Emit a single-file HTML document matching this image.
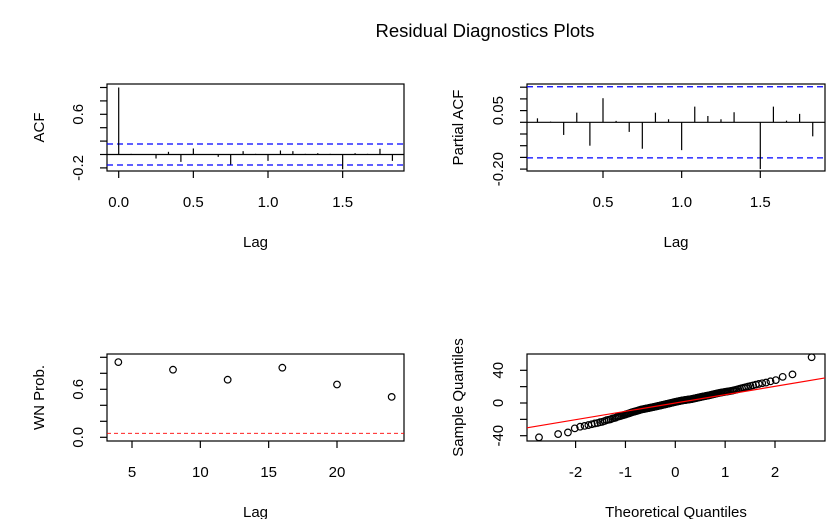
<!DOCTYPE html>
<html><head><meta charset="utf-8"><style>
html,body{margin:0;padding:0;background:#fff;}
svg{display:block;font-family:"Liberation Sans",Arial,sans-serif;}
</style></head><body>
<svg id="c" width="837" height="519" viewBox="0 0 837 519" xmlns="http://www.w3.org/2000/svg">
<rect width="837" height="519" fill="#fff"/>
<text x="485" y="37" font-size="18.5" text-anchor="middle">Residual Diagnostics Plots</text>
</svg>
<script>
// ACF panel data
const acfLags = [0,1,2,3,4,5,6,7,8,9,10,11,12,13,14,15,16,17,18,19,20,21,22];
const acfValues = [1,0.01,0.0,-0.06,0.04,-0.11,0.09,0.0,-0.035,-0.15,0.05,0.01,-0.095,0.06,0.05,0.01,0.02,0.01,-0.22,0.02,0.01,0.085,-0.095];
const acfCI = 0.157;
const acfYTicks = [-0.2,0,0.2,0.4,0.6,0.8,1.0];
const acfYLabels = ["-0.2","0.6"];
const acfXTicks = [0,0.5,1,1.5];
const acfXLabels = ["0.0","0.5","1.0","1.5"];
// PACF panel data
const pacfValues = [0.017,0.003,-0.054,0.041,-0.10,0.103,0.006,-0.041,-0.113,0.041,0.013,-0.119,0.067,0.027,0.013,0.043,0.0,-0.2,0.067,0.007,0.036,-0.06];
const pacfCI = 0.152;
const pacfYTicks = [0.15,0.10,0.05,0,-0.05,-0.10,-0.15,-0.20];
const pacfYLabels = ["0.05","-0.20"];
const pacfXTicks = [0.5,1,1.5];
const pacfXLabels = ["0.5","1.0","1.5"];
// White-noise p-values
const wnLags = [4,8,12,16,20,24];
const wnProbs = [0.94,0.845,0.72,0.87,0.66,0.505];
const wnLevel = 0.05;
const wnYTicks = [0,0.2,0.4,0.6,0.8,1.0];
const wnXTicks = [5,10,15,20];
// QQ plot sample quantiles (sorted)
const qqSample = [-42,-38,-36,-31,-29,-28,-27,-26,-25,-24.5,-23.5,-23,-22,-21,-20.5,-20,-19,-18.5,-18,-17,
-16.5,-16,-15.5,-15,-14.5,-14,-13.5,-13,-12.5,-12,-11.5,-11,-10.7,-10.3,-10,-9.6,-9.2,-8.8,-8.4,-8,
-7.8,-7.5,-7.3,-7.1,-6.8,-6.6,-6.4,-6.2,-5.9,-5.7,-5.5,-5.2,-5,-4.8,-4.6,-4.3,-4.1,-3.9,-3.6,-3.4,
-3.2,-3,-2.7,-2.5,-2.3,-2,-1.8,-1.6,-1.3,-1.1,-0.9,-0.7,-0.4,-0.2,0,0.3,0.5,0.7,1,1.2,
1.4,1.6,1.8,2,2.2,2.4,2.6,2.8,3,3.2,3.3,3.5,3.6,3.8,3.9,4.1,4.2,4.4,4.5,4.6,
4.8,5,5.3,5.5,5.7,6,6.2,6.4,6.7,6.9,7.1,7.4,7.6,7.9,8.1,8.3,8.6,8.8,9,9.2,
9.5,9.8,10.1,10.4,10.7,11,11.3,11.6,11.9,12.2,12.5,12.8,13,13.3,13.6,13.9,14.1,14.4,14.7,15,
15.4,15.9,16.4,17,17.6,18.2,18.8,19.4,20.1,20.8,21.6,22.5,23.3,24.2,25,26.5,28,32,35,56];
const qqLine = [0.0,10.2]; // intercept, slope
const qqYTicks = [-40,-20,0,20,40];
const qqYLabels = ["-40","0","40"];
const qqXTicks = [-2,-1,0,1,2];

const svg = document.getElementById('c');
const NS = 'http://www.w3.org/2000/svg';
function el(tag, attrs, parent){
  const e = document.createElementNS(NS, tag);
  for (const k in attrs) e.setAttribute(k, attrs[k]);
  (parent||svg).appendChild(e);
  return e;
}
function lin(d0,d1,r0,r1){ return v => r0 + (v-d0)*(r1-r0)/(d1-d0); }
function qnorm(p){
  const a=[-39.69683028665376,220.9460984245205,-275.9285104469687,138.357751867269,-30.66479806614716,2.506628277459239];
  const b=[-54.47609879822406,161.5858368580409,-155.6989798598866,66.80131188771972,-13.28068155288572];
  const c=[-0.007784894002430293,-0.3223964580411365,-2.400758277161838,-2.549732539343734,4.374664141464968,2.938163982698783];
  const d=[0.007784695709041462,0.3224671290700398,2.445134137142996,3.754408661907416];
  let q,r;
  if(p<0.02425){q=Math.sqrt(-2*Math.log(p));return (((((c[0]*q+c[1])*q+c[2])*q+c[3])*q+c[4])*q+c[5])/((((d[0]*q+d[1])*q+d[2])*q+d[3])*q+1);}
  if(p>1-0.02425){q=Math.sqrt(-2*Math.log(1-p));return -(((((c[0]*q+c[1])*q+c[2])*q+c[3])*q+c[4])*q+c[5])/((((d[0]*q+d[1])*q+d[2])*q+d[3])*q+1);}
  q=p-0.5;r=q*q;return (((((a[0]*r+a[1])*r+a[2])*r+a[3])*r+a[4])*r+a[5])*q/(((((b[0]*r+b[1])*r+b[2])*r+b[3])*r+b[4])*r+1);
}

function panel(name, box, xs, ys, xTicks, xLabels, yTicks, yLabelMap, yTitle, xTitle, yTitleX){
  const g = el('g', {});
  
  
  const b = el('rect', {x:box.x0, y:box.y0, width:box.x1-box.x0, height:box.y1-box.y0, fill:'none', stroke:'#000', 'stroke-width':1.2}, g);
  
  
  const xa = el('g', {}, g);
  
  
  xTicks.forEach((t,i)=>{
    const px = xs(t);
    el('line', {x1:px, x2:px, y1:box.y1, y2:box.y1+7, stroke:'#000', 'stroke-width':1.2}, xa);
    const tx = el('text', {x:px, y:box.y1+36, 'font-size':15, 'text-anchor':'middle'}, xa);
    tx.textContent = xLabels[i];
    
    
  });
  const ya = el('g', {}, g);
  
  
  yTicks.forEach(t=>{
    const py = ys(t);
    el('line', {x1:box.x0-7, x2:box.x0, y1:py, y2:py, stroke:'#000', 'stroke-width':1.2}, ya);
  });
  yLabelMap.forEach(([v,lab])=>{
    const py = ys(v);
    const x = box.x0 - 24;
    const tx = el('text', {x:x, y:py, 'font-size':15, 'text-anchor':'middle', transform:`rotate(-90 ${x} ${py})`}, ya);
    tx.textContent = lab;
    
    
  });
  const yt = el('text', {x:yTitleX, y:(box.y0+box.y1)/2, 'font-size':15, 'text-anchor':'middle', transform:`rotate(-90 ${yTitleX} ${(box.y0+box.y1)/2})`}, g);
  yt.textContent = yTitle;
  
  
  const xt = el('text', {x:(box.x0+box.x1)/2, y:box.y1+76, 'font-size':15, 'text-anchor':'middle'}, g);
  xt.textContent = xTitle;
  
  
  return g;
}

// ---- ACF panel
{
  const box = {x0:107, x1:404, y0:84, y1:171};
  const xs = lin(0,1,118.7,268);
  const ys = lin(0,0.6,154.5,114.3);
  const g = panel('acf-panel', box, xs, ys, acfXTicks, acfXLabels, acfYTicks,
    [[-0.2,acfYLabels[0]],[0.6,acfYLabels[1]]], 'ACF', 'Lag', 44);
  el('line', {x1:box.x0, x2:box.x1, y1:ys(0), y2:ys(0), stroke:'#000', 'stroke-width':1.2}, g);
  [acfCI,-acfCI].forEach(v=>{
    const l = el('line', {x1:box.x0, x2:box.x1, y1:ys(v), y2:ys(v), stroke:'#0000ff', 'stroke-width':1.3, 'stroke-dasharray':'6,4'}, g);
    
    
  });
  acfLags.forEach((k,i)=>{
    const x = xs(k/12);
    const l = el('line', {x1:x, x2:x, y1:ys(0), y2:ys(acfValues[i]), stroke:'#000', 'stroke-width':1.2}, g);
    
    
  });
}
// ---- PACF panel
{
  const box = {x0:527, x1:825, y0:84, y1:171};
  const xs = lin(0.5,1.5,603,760.3);
  const ys = lin(0,0.05,122.3,110.6);
  const g = panel('pacf-panel', box, xs, ys, pacfXTicks, pacfXLabels, pacfYTicks,
    [[0.05,pacfYLabels[0]],[-0.2,pacfYLabels[1]]], 'Partial ACF', 'Lag', 463);
  el('line', {x1:box.x0, x2:box.x1, y1:ys(0), y2:ys(0), stroke:'#000', 'stroke-width':1.2}, g);
  [pacfCI,-pacfCI].forEach(v=>{
    const l = el('line', {x1:box.x0, x2:box.x1, y1:ys(v), y2:ys(v), stroke:'#0000ff', 'stroke-width':1.3, 'stroke-dasharray':'6,4'}, g);
    
    
  });
  pacfValues.forEach((v,i)=>{
    const x = xs((i+1)/12);
    const l = el('line', {x1:x, x2:x, y1:ys(0), y2:ys(v), stroke:'#000', 'stroke-width':1.2}, g);
    
    
  });
}
// ---- WN prob panel
{
  const box = {x0:107, x1:404, y0:354, y1:441};
  const xs = lin(5,20,132,337);
  const ys = lin(0,0.6,437.3,389.3);
  const g = panel('wn-prob-panel', box, xs, ys, wnXTicks, wnXTicks.map(String), wnYTicks,
    [[0,'0.0'],[0.6,'0.6']], 'WN Prob.', 'Lag', 44);
  const l = el('line', {x1:box.x0, x2:box.x1, y1:ys(wnLevel), y2:ys(wnLevel), stroke:'#ff0000', 'stroke-width':0.9, 'stroke-dasharray':'4,3'}, g);
  
  
  wnLags.forEach((k,i)=>{
    const c = el('circle', {cx:xs(k), cy:ys(wnProbs[i]), r:3.3, fill:'none', stroke:'#000', 'stroke-width':1.2}, g);
    
    
  });
}
// ---- QQ panel
{
  const box = {x0:527, x1:825, y0:354, y1:441};
  const xs = lin(0,2,675.3,775);
  const ys = lin(0,40,403,370.3);
  const g = panel('qq-panel', box, xs, ys, qqXTicks, qqXTicks.map(String), qqYTicks,
    [[-40,qqYLabels[0]],[0,qqYLabels[1]],[40,qqYLabels[2]]], 'Sample Quantiles', 'Theoretical Quantiles', 463);
  const n = qqSample.length;
  qqSample.forEach((v,i)=>{
    const z = qnorm((i+0.5)/n);
    const c = el('circle', {cx:xs(z), cy:ys(v), r:3.3, fill:'none', stroke:'#000', 'stroke-width':1.2}, g);
    
    
  });
  const zl = (box.x0-675.3)/49.85, zr = (box.x1-675.3)/49.85;
  const ql = el('line', {x1:box.x0, x2:box.x1,
    y1:ys(qqLine[0]+qqLine[1]*zl), y2:ys(qqLine[0]+qqLine[1]*zr),
    stroke:'#ff0000', 'stroke-width':1.2}, g);
  
  
}
</script>
</body></html>
